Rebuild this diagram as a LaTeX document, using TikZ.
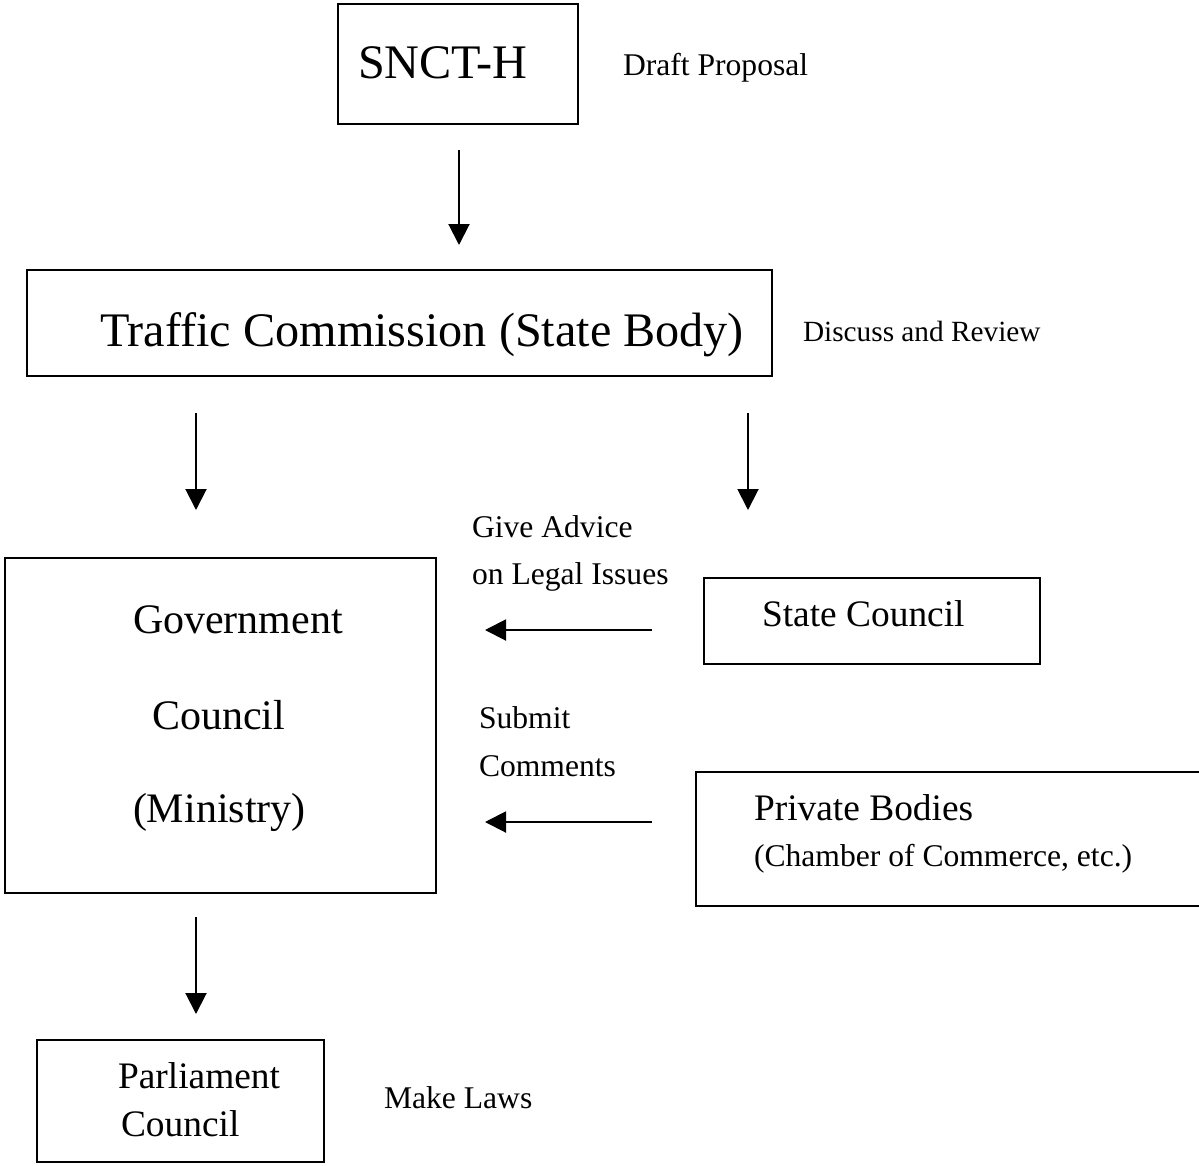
\documentclass[tikz,border=0pt]{standalone}
\usepackage{fontspec}
\setmainfont{Liberation Serif}
\usetikzlibrary{arrows.meta}
\newcommand{\fsHuge}{\fontsize{48.2}{52}\selectfont}
\newcommand{\fsBig}{\fontsize{42}{46}\selectfont}
\newcommand{\fsMid}{\fontsize{37.4}{41}\selectfont}
\newcommand{\fsSmall}{\fontsize{31.6}{35}\selectfont}
\newcommand{\fsTiny}{\fontsize{29.3}{33}\selectfont}
\begin{document}
\begin{tikzpicture}[x=1pt,y=-1pt,
  frame/.style={draw,line width=2pt,inner sep=0pt,outer sep=0pt},
  lbl/.style={anchor=base west,inner sep=0pt,outer sep=0pt},
  flow/.style={line width=2pt,-{Triangle[width=21pt,length=21pt]}}]
\useasboundingbox (0,0) rectangle (1199,1165);

% boxes
\node[frame,minimum width=240pt,minimum height=120pt] (sncth) at (458,64) {};
\node[frame,minimum width=745pt,minimum height=106pt] (traffic) at (399.5,323) {};
\node[frame,minimum width=431pt,minimum height=335pt] (gov) at (220.5,725.5) {};
\node[frame,minimum width=336pt,minimum height=86pt] (state) at (872,621) {};
\node[frame,minimum width=287pt,minimum height=122pt] (parl) at (180.5,1101) {};
\coordinate (pbTR) at (1199,772);
\coordinate (pbTL) at (696,772);
\coordinate (pbBL) at (696,906);
\coordinate (pbBR) at (1199,906);
\draw[line width=2pt] (pbTR) -- (pbTL) -- (pbBL) -- (pbBR);

% texts
\node[lbl] (tSncth) at (358,78) {\fsHuge SNCT-H};
\node[lbl] (tDraft) at (623,75) {\fsSmall Draft Proposal};
\node[lbl] (tTraffic) at (100,346) {\fsHuge Traffic Commission (State Body)};
\node[lbl] (tDiscuss) at (803,341) {\fsTiny Discuss and Review};
\node[lbl] (tAdvA) at (472,537) {\fsSmall Give Advice};
\node[lbl] (tAdvB) at (472,584) {\fsSmall on Legal Issues};
\node[lbl] (tGovA) at (133,633) {\fsBig Government};
\node[lbl] (tGovB) at (152,729) {\fsBig Council};
\node[lbl] (tGovC) at (133,822) {\fsBig (Ministry)};
\node[lbl] (tState) at (762,626) {\fsMid State Council};
\node[lbl] (tSubA) at (479,728) {\fsSmall Submit};
\node[lbl] (tSubB) at (479,776) {\fsSmall Comments};
\node[lbl] (tPrivA) at (754,820) {\fsMid Private Bodies};
\node[lbl] (tPrivB) at (754,866) {\fsSmall (Chamber of Commerce, etc.)};
\node[lbl] (tParlA) at (118,1088) {\fsMid Parliament};
\node[lbl] (tParlB) at (121,1136) {\fsMid Council};
\node[lbl] (tLaws) at (384,1108) {\fsSmall Make Laws};

% arrows
\coordinate (a1s) at (459,150); \coordinate (a1e) at (459,245);
\coordinate (a2s) at (196,413); \coordinate (a2e) at (196,510);
\coordinate (a3s) at (748,413); \coordinate (a3e) at (748,510);
\coordinate (a4s) at (652,630); \coordinate (a4e) at (485,630);
\coordinate (a5s) at (652,822); \coordinate (a5e) at (485,822);
\coordinate (a6s) at (196,917); \coordinate (a6e) at (196,1014);
\draw[flow] (a1s) -- (a1e);
\draw[flow] (a2s) -- (a2e);
\draw[flow] (a3s) -- (a3e);
\draw[flow] (a4s) -- (a4e);
\draw[flow] (a5s) -- (a5e);
\draw[flow] (a6s) -- (a6e);
\end{tikzpicture}
\end{document}
